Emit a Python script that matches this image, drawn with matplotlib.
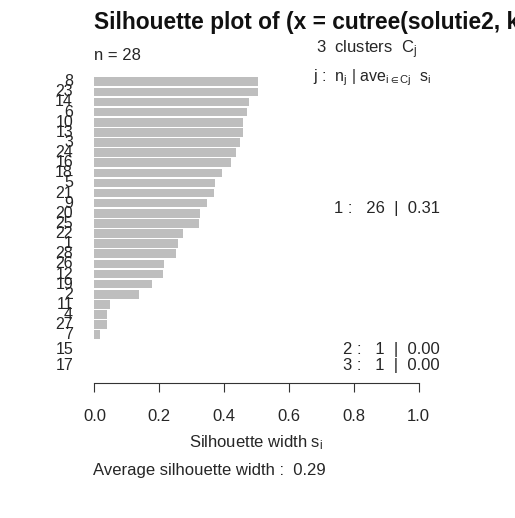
import matplotlib
matplotlib.use("Agg")
import matplotlib.pyplot as plt

plt.rcParams['font.family'] = ['Liberation Sans', 'DejaVu Sans']
plt.rcParams['mathtext.fontset'] = 'custom'
plt.rcParams['mathtext.rm'] = 'Liberation Sans'
plt.rcParams['mathtext.it'] = 'Liberation Sans:italic'
plt.rcParams['mathtext.default'] = 'regular'

# observations in plotting order (top to bottom)
labels = ["8", "23", "14", "6", "10", "13", "3", "24", "16", "18", "5", "21", "9",
          "20", "25", "22", "1", "28", "26", "12", "19", "2", "11", "4", "27", "7",
          "15", "17"]
sil = [0.504, 0.504, 0.476, 0.472, 0.459, 0.457, 0.449, 0.438, 0.420, 0.392,
       0.371, 0.368, 0.347, 0.326, 0.322, 0.272, 0.258, 0.251, 0.214, 0.210,
       0.176, 0.138, 0.049, 0.039, 0.039, 0.018, 0.0, 0.0]
cluster = [1] * 26 + [2, 3]

cluster_ids = [1, 2, 3]
cluster_sizes = [26, 1, 1]
cluster_avg = [0.31, 0.00, 0.00]
avg_width = 0.29
n_obs = 28
xticks = [0.0, 0.2, 0.4, 0.6, 0.8, 1.0]

TXT = '#262626'

# row positions: one unit per bar, half-unit gap between clusters
pos = []
p = 0.0
for i, c in enumerate(cluster):
    if i > 0 and c != cluster[i - 1]:
        p += 0.5
    pos.append(p)
    p += 1

W, H = 515, 518
fig = plt.figure(figsize=(W / 100, H / 100), dpi=100)
ax = fig.add_axes([81.5 / W, 1 - 383 / H, 350 / W, 313 / H])

ax.barh(pos, sil, height=0.85, color='#bebebe', left=0)
ax.set_xlim(-0.04, 1.04)
ax.set_ylim(29.77, -1.16)

for s in ['left', 'top', 'right']:
    ax.spines[s].set_visible(False)
ax.spines['bottom'].set_bounds(0, 1)
ax.spines['bottom'].set_color('#333333')
ax.set_xticks(xticks)
ax.set_xticklabels([f"{t:.1f}" for t in xticks])
ax.tick_params(axis='x', direction='out', length=6.5, width=0.8, color='#333333',
               labelsize=12, labelcolor=TXT, pad=12)
ax.set_yticks([])

for y, lab in zip(pos, labels):
    ax.text(-0.066, y, lab, ha='right', va='center', fontsize=11.5, color=TXT)

for cid, n, a in zip(cluster_ids, cluster_sizes, cluster_avg):
    ys = [pp for pp, c in zip(pos, cluster) if c == cid]
    mid = sum(ys) / len(ys)
    ax.text(1.066, mid, f"{cid} :   {n}  |  {a:.2f}", ha='right', va='center',
            fontsize=12, color=TXT, clip_on=False)

fig.text(94 / W, 1 - 23 / H, "Silhouette plot of (x = cutree(solutie2, k = 3), dist = d)",
         fontweight='bold', fontsize=16.4, va='center', color='#111111')
fig.text(94 / W, 1 - 55 / H, f"n = {n_obs}", fontsize=12, va='center', color=TXT)
fig.text(316 / W, 1 - 50 / H, f"{len(cluster_ids)}  clusters  $C_j$", fontsize=12,
         va='center', color=TXT)
fig.text(313 / W, 1 - 78 / H, r"j :  $n_j$ | $ave_{i\in Cj}$  $s_i$", fontsize=11.5,
         va='center', color=TXT)
fig.text(256.5 / W, 1 - 443 / H, "Silhouette width $s_i$", ha='center', va='center',
         fontsize=12, color=TXT)
fig.text(93 / W, 1 - 471 / H, f"Average silhouette width :  {avg_width:.2f}",
         fontsize=12, va='center', color=TXT)

fig.savefig('out.png', dpi=100)
